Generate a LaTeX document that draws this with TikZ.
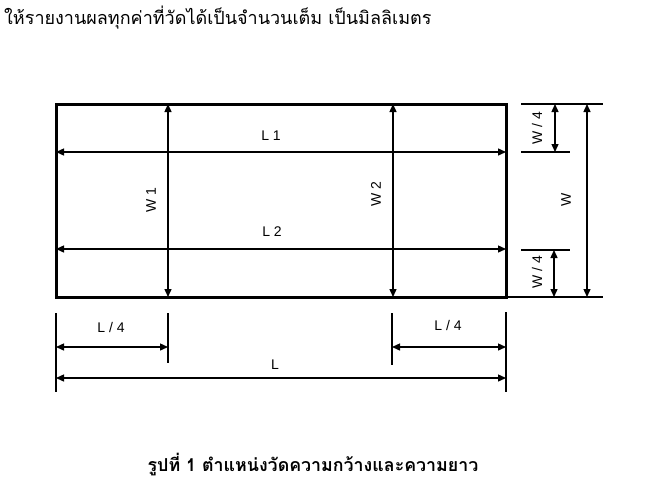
\documentclass[tikz,border=0pt]{standalone}
\usepackage{fontspec}
\setmainfont{Liberation Sans}
\newfontfamily\thaifont[Script=Thai]{Loma}
\usetikzlibrary{arrows.meta}
\begin{document}
\begin{tikzpicture}[x=1pt,y=-1pt,
  dim/.style={line width=1.4pt,{Triangle[length=8pt,width=7pt]}-{Triangle[length=8pt,width=7pt]}},
  ext/.style={line width=1.4pt},
  lbl/.style={font=\fontsize{14}{14}\selectfont,inner sep=0pt},
  vlbl/.style={lbl,rotate=90}]
\useasboundingbox (0,0) rectangle (656,488);
% title
\node[anchor=west,inner sep=0pt,font=\thaifont\fontsize{18}{18}\selectfont] (title) at (4,18) {ให้รายงานผลทุกค่าที่วัดได้เป็นจำนวนเต็ม เป็นมิลลิเมตร};
% rectangle
\coordinate (TL) at (56,104);
\coordinate (BR) at (506,297);
\draw[line width=3pt] (TL) rectangle (BR);
% inner points
\coordinate (L1a) at (56,152); \coordinate (L1b) at (506,152);
\coordinate (L2a) at (56,249); \coordinate (L2b) at (506,249);
\coordinate (W1a) at (168,104); \coordinate (W1b) at (168,297);
\coordinate (W2a) at (393,104); \coordinate (W2b) at (393,297);
\draw[dim] (L1a) -- (L1b);
\draw[dim] (L2a) -- (L2b);
\draw[dim] (W1a) -- (W1b);
\draw[dim] (W2a) -- (W2b);
\node[lbl] (l1) at (271,136) {L 1};
\node[lbl] (l2) at (272,232) {L 2};
\node[vlbl] (w1) at (151,200) {W 1};
\node[vlbl] (w2) at (376,194) {W 2};
% right side
\coordinate (rt1) at (521,104); \coordinate (rt2) at (603,104);
\coordinate (rq1) at (521,152); \coordinate (rq2) at (570,152);
\coordinate (rr1) at (521,250); \coordinate (rr2) at (570,250);
\coordinate (rb1) at (507,297); \coordinate (rb2) at (603,297);
\draw[ext] (rt1) -- (rt2);
\draw[ext] (rq1) -- (rq2);
\draw[ext] (rr1) -- (rr2);
\draw[ext] (rb1) -- (rb2);
\coordinate (wa1) at (555,104); \coordinate (wa2) at (555,152);
\coordinate (wb1) at (554,250); \coordinate (wb2) at (554,297);
\coordinate (wc1) at (587,104); \coordinate (wc2) at (587,297);
\draw[dim] (wa1) -- (wa2);
\draw[dim] (wb1) -- (wb2);
\draw[dim] (wc1) -- (wc2);
\node[vlbl] (wq1) at (537,128) {W / 4};
\node[vlbl] (wq2) at (537,272) {W / 4};
\node[vlbl] (w) at (566,200) {W};
% bottom
\coordinate (t1a) at (56,313); \coordinate (t1b) at (56,392);
\coordinate (t2a) at (168,313); \coordinate (t2b) at (168,363);
\coordinate (t3a) at (392,313); \coordinate (t3b) at (392,365);
\coordinate (t4a) at (506,312); \coordinate (t4b) at (506,392);
\draw[ext] (t1a) -- (t1b);
\draw[ext] (t2a) -- (t2b);
\draw[ext] (t3a) -- (t3b);
\draw[ext] (t4a) -- (t4b);
\coordinate (la1) at (56,347); \coordinate (la2) at (168,347);
\coordinate (lb1) at (392,347); \coordinate (lb2) at (506,347);
\coordinate (lc1) at (56,378); \coordinate (lc2) at (506,378);
\draw[dim] (la1) -- (la2);
\draw[dim] (lb1) -- (lb2);
\draw[dim] (lc1) -- (lc2);
\node[lbl] (lq1) at (111,327) {L / 4};
\node[lbl] (lq2) at (448,325) {L / 4};
\node[lbl] (l) at (275,365) {L};
% caption
\node[inner sep=0pt,font=\thaifont\bfseries\fontsize{17.8}{18}\selectfont] (cap) at (313,465) {รูปที่ 1 ตำแหน่งวัดความกว้างและความยาว};
\end{tikzpicture}
\end{document}
